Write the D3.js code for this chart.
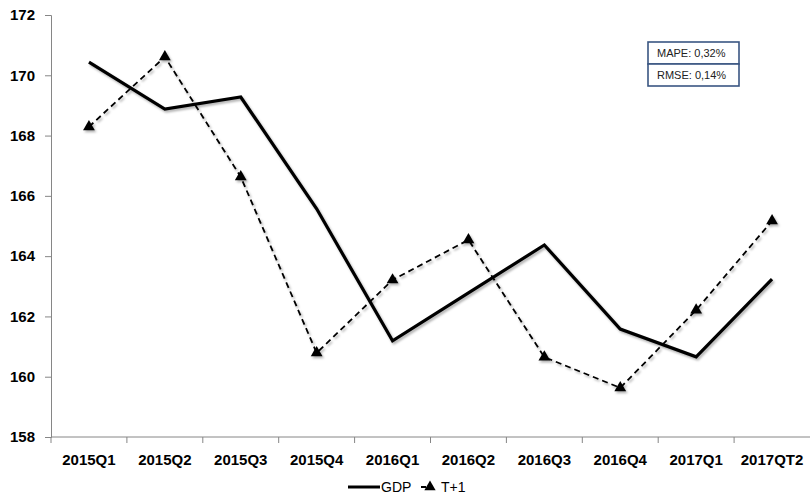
<!DOCTYPE html>
<html>
<head>
<meta charset="utf-8">
<script src="https://cdn.jsdelivr.net/npm/d3@7"></script>
<style>
  html, body { margin: 0; padding: 0; background: #fff; }
  svg { display: block; }
</style>
</head>
<body>
<svg id="chart" width="810" height="497"></svg>
<script>
// Quarterly GDP and its one-step-ahead (T+1) forecast
const categories = ["2015Q1", "2015Q2", "2015Q3", "2015Q4", "2016Q1", "2016Q2", "2016Q3", "2016Q4", "2017Q1", "2017QT2"];
const gdp = [170.44, 168.88, 169.28, 165.57, 161.19, 162.78, 164.37, 161.58, 160.66, 163.24];
const forecast = [168.29, 170.61, 166.63, 160.79, 163.21, 164.54, 160.65, 159.63, 162.21, 165.17];
const yTicks = [158, 160, 162, 164, 166, 168, 170, 172];
const seriesNames = ["GDP", "T+1"];
const stats = ["MAPE: 0,32%", "RMSE: 0,14%"];

const svg = d3.select("#chart");
const m = { left: 51, right: 810, top: 15, bottom: 437 };

const x = d3.scaleBand().domain(categories).range([m.left, m.right]);
const y = d3.scaleLinear().domain([158, 172]).range([m.bottom, m.top]);

// soft shadow under the series lines
const defs = svg.append("defs");
const f = defs.append("filter").attr("id", "shadow")
  .attr("x", "-5%").attr("y", "-5%").attr("width", "110%").attr("height", "115%");
f.append("feDropShadow").attr("dx", 1.5).attr("dy", 2).attr("stdDeviation", 1.2)
  .attr("flood-color", "#000").attr("flood-opacity", 0.3);

const axisColor = "#868686";
const labelFont = "'Liberation Sans', Arial, sans-serif";

// Y axis
const yAxis = svg.append("g").attr("transform", `translate(${m.left},0)`)
  .call(d3.axisLeft(y).tickValues(yTicks).tickSize(6).tickPadding(10).tickFormat(d3.format("d")));
yAxis.select(".domain").attr("stroke", axisColor).attr("stroke-width", 1);
yAxis.selectAll(".tick line").attr("stroke", axisColor);
yAxis.selectAll(".tick text").attr("fill", "#000")
  .style("font", `bold 15px ${labelFont}`);

// X axis: ticks sit on the category boundaries
const xAxisG = svg.append("g").attr("transform", `translate(0,${m.bottom})`);
xAxisG.append("line").attr("x1", m.left).attr("x2", m.right)
  .attr("stroke", axisColor).attr("stroke-width", 1);
xAxisG.selectAll("line.tick").data(categories).enter().append("line")
  .attr("class", "tick")
  .attr("x1", d => x(d)).attr("x2", d => x(d))
  .attr("y1", 0).attr("y2", 6).attr("stroke", axisColor);
xAxisG.selectAll("text").data(categories).enter().append("text")
  .attr("x", d => x(d) + x.bandwidth() / 2)
  .attr("y", 28)
  .attr("text-anchor", "middle")
  .style("font", `bold 15px ${labelFont}`)
  .attr("fill", "#000")
  .text(d => d);

const cx = (d, i) => x(categories[i]) + x.bandwidth() / 2;
const line = d3.line().x(cx).y(d => y(d));

// T+1 forecast: dashed line with triangle markers
const fg = svg.append("g").attr("filter", "url(#shadow)");
fg.append("path").datum(forecast)
  .attr("d", line)
  .attr("fill", "none").attr("stroke", "#000")
  .attr("stroke-width", 1.8).attr("stroke-dasharray", "6,4");
fg.selectAll("path.marker").data(forecast).enter().append("path")
  .attr("class", "marker")
  .attr("d", d3.symbol().type(d3.symbolTriangle).size(60))
  .attr("transform", (d, i) => `translate(${cx(d, i)},${y(d)})`)
  .attr("fill", "#000");

// GDP: solid line
svg.append("path").datum(gdp)
  .attr("d", line)
  .attr("fill", "none").attr("stroke", "#000")
  .attr("stroke-width", 3.2).attr("stroke-linejoin", "miter")
  .attr("filter", "url(#shadow)");

// Error statistics boxes
const boxX = 648, boxW = 91, boxH = 22, boxY = 42;
const sb = svg.append("g");
stats.forEach((s, i) => {
  sb.append("rect")
    .attr("x", boxX).attr("y", boxY + i * boxH)
    .attr("width", boxW).attr("height", boxH)
    .attr("fill", "#fff").attr("stroke", "#3a5682").attr("stroke-width", 1.6);
  sb.append("text")
    .attr("x", boxX + 9).attr("y", boxY + i * boxH + 15)
    .style("font", `11px ${labelFont}`)
    .attr("fill", "#222")
    .text(s);
});

// Legend
const lg = svg.append("g").attr("transform", "translate(0,487)");
lg.append("line").attr("x1", 348).attr("x2", 380).attr("y1", 0).attr("y2", 0)
  .attr("stroke", "#000").attr("stroke-width", 3);
lg.append("text").attr("x", 381).attr("y", 5)
  .style("font", `14px ${labelFont}`).attr("fill", "#000").text(seriesNames[0]);
lg.append("line").attr("x1", 421).attr("x2", 426).attr("y1", 0).attr("y2", 0)
  .attr("stroke", "#000").attr("stroke-width", 2);
lg.append("path").attr("d", d3.symbol().type(d3.symbolTriangle).size(55))
  .attr("transform", "translate(430,0)").attr("fill", "#000");
lg.append("text").attr("x", 441).attr("y", 5)
  .style("font", `14px ${labelFont}`).attr("fill", "#000").text(seriesNames[1]);
</script>
</body>
</html>
